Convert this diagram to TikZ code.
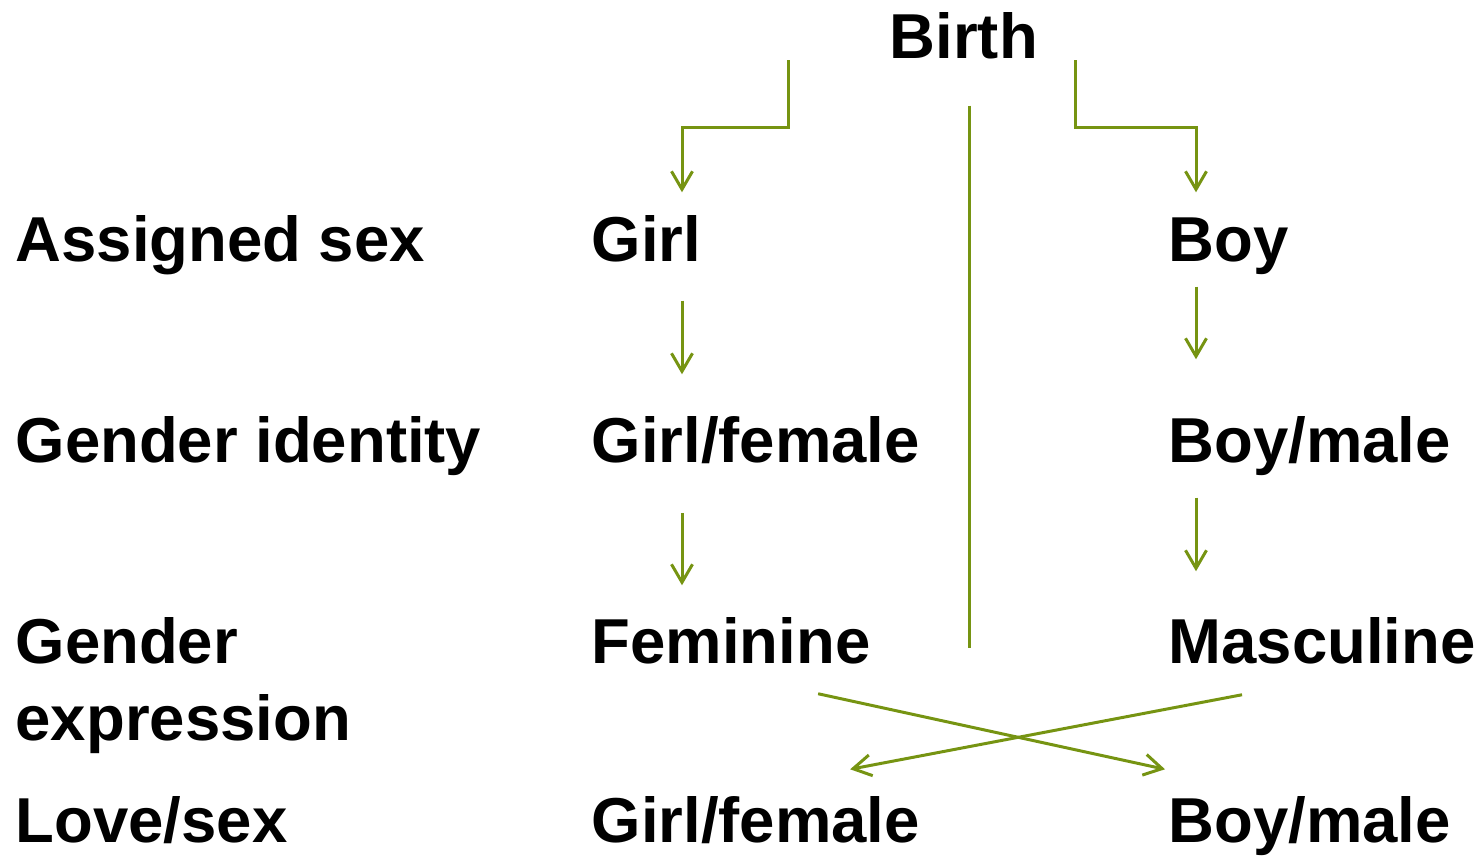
\documentclass[tikz,border=0pt]{standalone}
\usepackage{fontspec}
\setmainfont{Liberation Sans}
\usepackage{xcolor}
\usepackage{tikz}
\usetikzlibrary{arrows.meta, calc}

\definecolor{leafgreen}{RGB}{118,148,18}

\tikzset{
  lbl/.style={anchor=base west, inner sep=0pt, font=\bfseries\fontsize{18.05}{21.9}\selectfont},
  term/.style={lbl, text height=0.47cm, text depth=0.14cm},
  link/.style={draw=leafgreen, line width=0.85pt},
  arr/.style={link, -{Straight Barb[length=1.8mm,width=2.1mm]}},
}

\begin{document}
\begin{tikzpicture}[x=0.01cm, y=-0.01cm]
\useasboundingbox (0,0) rectangle (1478,856);

% top
\node[term] (birth) at (889,58) {Birth};

% row labels
\node[term] (assigned) at (15,261) {Assigned sex};
\node[term] (identity) at (15,462) {Gender identity};
\node[lbl, align=left] (expression) at (15,740) {Gender\\expression};
\node[term] (lovesex) at (15,842) {Love/sex};

% girl column
\node[term] (girl) at (591,261) {Girl};
\node[term] (girlid) at (591,462) {Girl/female};
\node[term] (feminine) at (591,663) {Feminine};
\node[term] (girllove) at (591,842) {Girl/female};

% boy column
\node[term] (boy) at (1168,261) {Boy};
\node[term] (boyid) at (1168,462) {Boy/male};
\node[term] (masculine) at (1168,663) {Masculine};
\node[term] (boylove) at (1168,842) {Boy/male};

% helper points
\coordinate (leftout) at (788,60);
\coordinate (rightout) at (1075,60);
\coordinate (colL) at (682,0);
\coordinate (colR) at (1196,0);
\coordinate (split) at (969,0);

% split at birth
\draw[arr, shorten >=0.21cm] (leftout) -- ++(0,67) -| (girl.north -| colL);
\draw[arr, shorten >=0.21cm] (rightout) -- ++(0,67) -| (boy.north -| colR);
\draw[link, shorten <=0.33cm, shorten >=0.15cm] (birth.south -| split) -- (feminine.base -| split);

% down the columns
\draw[arr, shorten <=0.25cm, shorten >=0.40cm] (girl.south -| colL) -- (girlid.north -| colL);
\draw[arr, shorten <=0.36cm, shorten >=0.30cm] (girlid.south -| colL) -- (feminine.north -| colL);
\draw[arr, shorten <=0.11cm, shorten >=0.55cm] (boy.south -| colR) -- (boyid.north -| colR);
\draw[arr, shorten <=0.21cm, shorten >=0.44cm] (boyid.south -| colR) -- (masculine.north -| colR);

% crossing
\draw[arr] ([xshift=2.27cm, yshift=-0.16cm]feminine.south west) -- ([xshift=-0.03cm, yshift=0.25cm]boylove.north west);
\draw[arr] ([xshift=0.74cm, yshift=-0.17cm]masculine.south west) -- ([xshift=2.59cm, yshift=0.25cm]girllove.north west);
\end{tikzpicture}
\end{document}
